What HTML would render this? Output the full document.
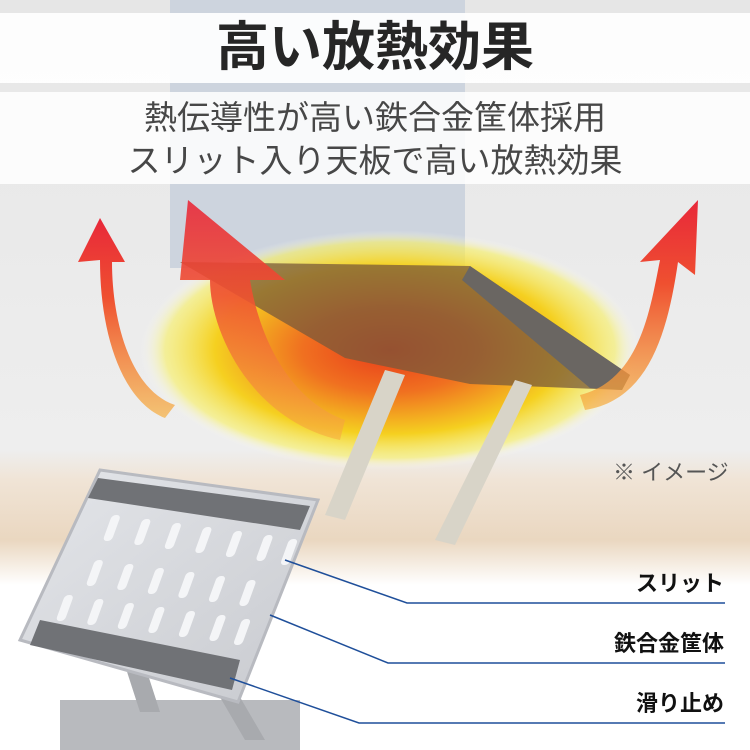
<!DOCTYPE html>
<html><head><meta charset="utf-8"><style>
html,body{margin:0;padding:0}
body{width:750px;height:750px;position:relative;overflow:hidden;background:#ececec;font-family:"Liberation Sans","Noto Sans CJK JP",sans-serif}
svg{position:absolute;left:0;top:0}
.t{position:absolute;left:0;width:750px;text-align:center}
.lab{position:absolute;right:26px;font-size:22px;font-weight:bold;color:#111}
</style></head><body>
<svg width="750" height="750" viewBox="0 0 750 750">
<defs>
<linearGradient id="bg" x1="0" y1="0" x2="0" y2="1">
<stop offset="0" stop-color="#e6e6e6"/><stop offset="0.6" stop-color="#eeeeee"/><stop offset="0.64" stop-color="#f0e4d6"/><stop offset="0.72" stop-color="#ead7c0"/><stop offset="0.78" stop-color="#ffffff"/><stop offset="1" stop-color="#ffffff"/></linearGradient>
<radialGradient id="glow" cx="0.5" cy="0.5" r="0.5">
<stop offset="0" stop-color="#e83a1a"/><stop offset="0.35" stop-color="#f07020"/><stop offset="0.7" stop-color="#f5d020"/><stop offset="0.9" stop-color="#f8f060" stop-opacity="0.6"/><stop offset="1" stop-color="#ffffff" stop-opacity="0"/></radialGradient>
<linearGradient id="arr" x1="0" y1="1" x2="0" y2="0">
<stop offset="0" stop-color="#f6b040" stop-opacity="0.7"/><stop offset="0.6" stop-color="#ef5030"/><stop offset="1" stop-color="#e8283a"/></linearGradient>
<linearGradient id="silver" x1="0" y1="0" x2="1" y2="1">
<stop offset="0" stop-color="#e4e6ea"/><stop offset="1" stop-color="#c8cacf"/></linearGradient>
</defs>
<rect width="750" height="750" fill="url(#bg)"/>
<rect x="170" y="0" width="295" height="268" fill="#cdd4de"/>
<ellipse cx="390" cy="350" rx="250" ry="120" fill="url(#glow)"/>
<polygon points="180,262 470,266 630,375 622,390 470,384 345,358" fill="#7a5a3a" opacity="0.75"/>
<polygon points="470,266 630,375 622,390 590,388 462,280" fill="#6a6662"/>
<polygon points="385,370 405,375 345,520 325,515" fill="#d8d4c8"/>
<polygon points="515,380 532,385 455,545 435,540" fill="#d8d4c8"/>
<path d="M165,418 C120,400 100,330 100,260 L78,262 L100,218 L125,262 L112,262 C112,320 130,390 175,405 Z" fill="url(#arr)"/>
<path d="M340,440 C250,420 210,330 210,280 L180,280 L188,200 L285,280 L250,280 C260,340 290,400 345,420 Z" fill="url(#arr)" opacity="0.9"/>
<path d="M580,395 C640,380 650,310 660,260 L640,262 L698,200 L695,275 L678,262 C668,330 650,400 585,410 Z" fill="url(#arr)"/>
<rect x="60" y="700" width="240" height="50" fill="#b8babe"/>
<polygon points="120,650 140,650 160,712 140,712" fill="#a8aaae"/>
<polygon points="210,680 230,680 265,740 245,740" fill="#a8aaae"/>
<polygon points="100,470 318,500 238,702 20,640" fill="url(#silver)" stroke="#b8bac0" stroke-width="3"/>
<polygon points="98,478 310,506 300,530 88,498" fill="#707276"/>
<polygon points="40,620 240,660 232,690 30,645" fill="#707276"/>
<g fill="#f4f5f7">
<g transform="translate(112,515) skewX(-20)"><rect x="0" y="0" width="9" height="26" rx="4"/><rect x="32" y="4" width="9" height="26" rx="4"/><rect x="64" y="8" width="9" height="26" rx="4"/><rect x="96" y="12" width="9" height="26" rx="4"/><rect x="128" y="16" width="9" height="26" rx="4"/><rect x="160" y="20" width="9" height="26" rx="4"/><rect x="186" y="24" width="9" height="26" rx="4"/></g>
<g transform="translate(95,560) skewX(-20)"><rect x="0" y="0" width="9" height="26" rx="4"/><rect x="32" y="4" width="9" height="26" rx="4"/><rect x="64" y="8" width="9" height="26" rx="4"/><rect x="96" y="12" width="9" height="26" rx="4"/><rect x="128" y="16" width="9" height="26" rx="4"/><rect x="160" y="20" width="9" height="26" rx="4"/></g>
<g transform="translate(65,595) skewX(-20)"><rect x="0" y="0" width="9" height="26" rx="4"/><rect x="32" y="4" width="9" height="26" rx="4"/><rect x="64" y="8" width="9" height="26" rx="4"/><rect x="96" y="12" width="9" height="26" rx="4"/><rect x="128" y="16" width="9" height="26" rx="4"/><rect x="160" y="20" width="9" height="26" rx="4"/><rect x="186" y="24" width="9" height="26" rx="4"/></g>
</g>
<g stroke="#1f4f9a" stroke-width="1.5" fill="none">
<polyline points="285,560 407,603 725,603"/>
<polyline points="270,615 388,663 725,663"/>
<polyline points="230,678 359,723 725,723"/>
</g>
<rect x="0" y="13" width="750" height="70" fill="#ffffff" opacity="0.92"/>
<rect x="0" y="92" width="750" height="92" fill="#ffffff" opacity="0.85"/>
</svg>
<div class="t" style="top:13px;font-size:53px;font-weight:bold;color:#262626;line-height:70px">高い放熱効果</div>
<div class="t" style="top:96px;font-size:33px;color:#474747;line-height:43px">熱伝導性が高い鉄合金筐体採用<br>スリット入り天板で高い放熱効果</div>
<div style="position:absolute;left:613px;top:455px;font-size:22px;color:#555">※ イメージ</div>
<div class="lab" style="top:566px">スリット</div>
<div class="lab" style="top:626px">鉄合金筐体</div>
<div class="lab" style="top:686px">滑り止め</div>
</body></html>
